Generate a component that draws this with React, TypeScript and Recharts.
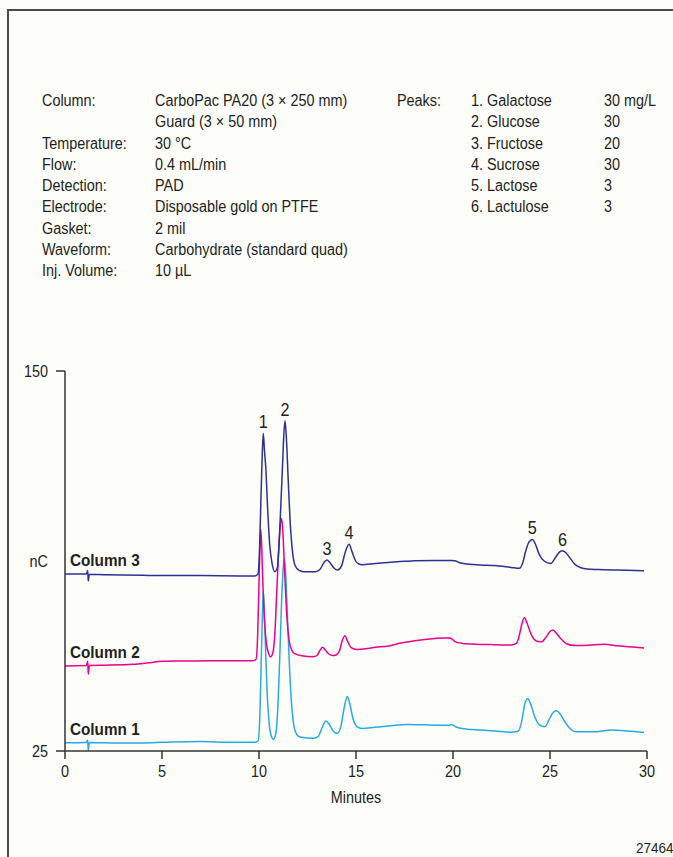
import React from "react";
import { LineChart, Line, XAxis, YAxis, LabelList, Label } from "recharts";

const FONT = "'Liberation Sans', Arial, sans-serif";
const INK = "#231f20";
const SQUEEZE = 0.9; // the original uses a condensed face

const xTicks = [0, 5, 10, 15, 20, 25, 30];
const yTicks = [25, 150];

const seriesNames = ["Column 1", "Column 2", "Column 3"];
const seriesColors = ["#29abe2", "#ec008c", "#2e3192"];

// Column 3 (top trace)
const col3Times = [
  0, 1.1, 1.17, 1.2, 1.25, 2, 4, 5, 7, 9, 9.8,
  9.95, 10.03, 10.1, 10.17, 10.22, 10.28, 10.36, 10.45, 10.55, 10.68, 10.82,
  10.95, 11.05, 11.14, 11.22, 11.28, 11.34, 11.42, 11.5, 11.6, 11.72, 11.86, 12.05, 12.3,
  12.9, 13.15, 13.35, 13.5, 13.65, 13.85, 14.05,
  14.25, 14.45, 14.64, 14.8, 14.98, 15.15, 15.3,
  16.0, 16.65, 17.5, 18.04, 19.07, 19.9, 20.1, 20.3, 20.6, 21.4, 22.16, 23.0, 23.42,
  23.6, 23.75, 23.92, 24.09, 24.25, 24.45, 24.7, 25.03,
  25.3, 25.5, 25.65, 25.82, 26.05, 26.3, 26.6, 26.9, 27.5, 28.5, 29.85,
];
const col3Values = [
  83.2, 83.2, 84.3, 80.9, 83.1, 83.0, 82.8, 82.7, 82.7, 82.6, 82.6,
  83.2, 92, 108, 123, 129.5, 124, 117, 104, 93, 86.5, 84.0,
  85.5, 95, 108, 120, 129, 133.6, 127, 115, 101, 91, 86, 84.5, 84.0,
  84.0, 84.8, 87.0, 87.8, 87.0, 85.3, 84.5,
  85.8, 90.5, 93.0, 90.5, 87.5, 86.5, 86.3,
  86.7, 87.0, 87.4, 87.6, 87.7, 87.7, 87.6, 87.0, 86.6, 86.2, 86.0, 85.4, 85.1,
  87.0, 90.8, 93.8, 94.6, 93.0, 89.6, 87.5, 86.7,
  88.8, 90.5, 90.9, 90.2, 88.3, 86.3, 85.3, 84.9, 84.7, 84.5, 84.3,
];

// Column 2 (middle trace)
const col2Times = [
  0, 1.1, 1.17, 1.2, 1.25, 2, 3.5, 4.3, 5, 6, 7.5, 8.5, 9.7,
  9.85, 9.93, 10.0, 10.05, 10.09, 10.14, 10.2, 10.28, 10.38, 10.5, 10.6,
  10.72, 10.82, 10.92, 11.02, 11.1, 11.17, 11.24, 11.32, 11.42, 11.55, 11.7, 11.85, 12.2, 12.8,
  13.0, 13.15, 13.28, 13.42, 13.6, 13.8, 13.97,
  14.15, 14.3, 14.43, 14.56, 14.75, 15.03, 15.5, 16.0, 16.65, 17.3, 18.04, 19.07, 19.6, 19.85,
  20.1, 20.5, 20.96, 22.0, 23.0, 23.25,
  23.4, 23.55, 23.68, 23.82, 24.0, 24.2, 24.4, 24.57,
  24.8, 25.0, 25.14, 25.3, 25.55, 25.85, 26.3, 27.0, 27.8, 28.5, 29.85,
];
const col2Values = [
  53.0, 53.1, 54.5, 50.3, 53.1, 53.2, 53.5, 54.0, 54.5, 54.6, 54.7, 54.7, 54.7,
  55.2, 63, 80, 92, 98, 92, 80, 68, 60.5, 57, 56.0,
  57.5, 64, 78, 92, 99.5, 101.5, 96, 84, 71, 61.5, 58, 57.0, 56.3, 56.0,
  56.5, 58.2, 59.1, 58.2, 56.9, 56.4, 56.6,
  58.0, 61.5, 62.9, 61.2, 59.0, 58.4, 58.6, 59.1, 59.5, 60.5, 61.3, 62.0, 62.2, 62.2,
  61.0, 60.4, 60.2, 60.0, 59.9, 60.3,
  62.5, 66.8, 68.8, 67.0, 63.8, 61.6, 61.0, 60.9,
  62.5, 64.3, 64.8, 64.0, 62.0, 60.3, 59.7, 59.8, 60.1, 59.6, 58.9,
];

// Column 1 (bottom trace)
const col1Times = [
  0, 1.1, 1.17, 1.2, 1.25, 2, 3.5, 4.5, 5.5, 7, 8.5, 9.8,
  9.95, 10.05, 10.12, 10.18, 10.22, 10.27, 10.34, 10.42, 10.52, 10.62, 10.74,
  10.86, 10.96, 11.06, 11.17, 11.25, 11.31, 11.37, 11.45, 11.55, 11.65, 11.76, 11.9, 12.1, 12.8,
  13.05, 13.25, 13.45, 13.62, 13.82, 14.04,
  14.22, 14.4, 14.55, 14.68, 14.85, 15.05, 15.3, 16, 16.65, 17.7, 18.5, 19.76, 19.95, 20.15,
  20.45, 21.4, 22.16, 23.0, 23.35,
  23.55, 23.7, 23.85, 24.0, 24.2, 24.45, 24.74,
  24.95, 25.15, 25.34, 25.52, 25.8, 26.1, 26.37, 27.2, 28.2, 29.0, 29.85,
];
const col1Values = [
  27.7, 27.8, 28.6, 25.2, 27.8, 27.7, 27.6, 27.7, 28.0, 28.1, 27.9, 27.9,
  28.3, 38, 56, 71, 77.6, 72, 58, 44, 34.5, 30.2, 28.9,
  30.5, 38, 54, 75, 85.5, 88.1, 84, 72, 56, 43, 35, 31, 29.6, 29.2,
  29.8, 32.6, 34.9, 33.8, 31.6, 30.8,
  33, 39.5, 42.9, 40.5, 35.5, 33.0, 32.4, 32.8, 33.2, 33.7, 33.6, 33.5, 33.6, 32.9,
  32.4, 31.9, 31.6, 31.2, 31.5,
  35, 40.5, 42.3, 40.5, 36.5, 33.6, 33.0,
  35.3, 37.6, 38.2, 37.2, 34.3, 32.0, 31.3, 31.3, 31.9, 31.6, 31.1,
];

// peak numbering on the Column 3 trace
const peakLabels = ["1", "2", "3", "4", "5", "6"];
const peakTimes = [10.22, 11.34, 13.5, 14.64, 24.09, 25.65];

const conditionNames = [
  "Column:", "", "Temperature:", "Flow:", "Detection:", "Electrode:", "Gasket:", "Waveform:", "Inj. Volume:",
];
const conditionValues = [
  "CarboPac PA20 (3 × 250 mm)", "Guard (3 × 50 mm)", "30 °C", "0.4 mL/min", "PAD",
  "Disposable gold on PTFE", "2 mil", "Carbohydrate (standard quad)", "10 µL",
];
const analyteNames = ["1. Galactose", "2. Glucose", "3. Fructose", "4. Sucrose", "5. Lactose", "6. Lactulose"];
const analyteConc = ["30 mg/L", "30", "20", "30", "3", "3"];

const toData = (times: number[], values: number[]) => times.map((t, i) => ({ t, v: values[i] }));

const series = [
  toData(col1Times, col1Values),
  toData(col2Times, col2Values),
  toData(col3Times, col3Values),
];
const peakIdx = peakTimes.map((t) => col3Times.indexOf(t));

const textStyle: React.CSSProperties = {
  position: "absolute",
  fontFamily: FONT,
  fontSize: 16,
  lineHeight: "21.3px",
  color: INK,
  whiteSpace: "pre",
  transform: `scaleX(${SQUEEZE})`,
  transformOrigin: "left top",
};

function Column({ left, top, lines }: { left: number; top: number; lines: string[] }) {
  return (
    <div style={{ ...textStyle, left, top }}>
      {lines.map((s, i) => (
        <div key={i}>{s || "\u00a0"}</div>
      ))}
    </div>
  );
}

// svg text squeezed horizontally around its anchor point
function Squeezed({ x, y, children, ...rest }: any) {
  return (
    <g transform={`translate(${x},${y}) scale(${SQUEEZE},1)`}>
      <text x={0} y={0} fill={INK} fontFamily={FONT} {...rest}>
        {children}
      </text>
    </g>
  );
}

const XTick = ({ x, y, payload }: any) => (
  <Squeezed x={x} y={y + 13} fontSize={16} textAnchor="middle">
    {payload.value}
  </Squeezed>
);

const YTick = ({ x, y, payload }: any) => (
  <Squeezed x={x} y={y + 6} fontSize={16} textAnchor="end">
    {payload.value}
  </Squeezed>
);

export default function App() {
  return (
    <div style={{ position: "absolute", left: 0, top: 0, width: 673, height: 857, background: "#fdfdf9", overflow: "hidden" }}>
      <div style={{ position: "absolute", left: 7, top: 9, width: 666, height: 1.5, background: "#4a4a4a" }} />
      <div style={{ position: "absolute", left: 7, top: 9, width: 1.5, height: 848, background: "#4a4a4a" }} />

      <Column left={42} top={90} lines={conditionNames} />
      <Column left={155} top={90} lines={conditionValues} />
      <Column left={397} top={90} lines={["Peaks:"]} />
      <Column left={471} top={90} lines={analyteNames} />
      <Column left={604} top={90} lines={analyteConc} />

      <div style={{ position: "absolute", left: 0, top: 0 }}>
        <LineChart width={673} height={857} margin={{ top: 371, right: 26, bottom: 48, left: 25 }}>
          <XAxis
            dataKey="t"
            type="number"
            domain={[0, 30]}
            ticks={xTicks}
            tickSize={8}
            tickMargin={5}
            height={58}
            stroke="#333"
            strokeWidth={1.5}
            tick={<XTick />}
          >
            <Label
              position="insideBottom"
              content={({ viewBox }: any) => (
                <Squeezed x={viewBox.x + viewBox.width / 2} y={viewBox.y + 52} fontSize={16} textAnchor="middle">
                  Minutes
                </Squeezed>
              )}
            />
          </XAxis>
          <YAxis
            type="number"
            domain={[25, 150]}
            ticks={yTicks}
            width={40}
            tickSize={9}
            tickMargin={8}
            stroke="#333"
            strokeWidth={1.5}
            tick={<YTick />}
          >
            <Label
              position="insideRight"
              content={({ viewBox }: any) => (
                <Squeezed x={viewBox.x + viewBox.width - 17} y={viewBox.y + viewBox.height / 2 + 6} fontSize={16} textAnchor="end">
                  nC
                </Squeezed>
              )}
            />
          </YAxis>
          {series.map((data, s) => (
            <Line
              key={seriesNames[s]}
              data={data}
              dataKey="v"
              type="monotone"
              stroke={seriesColors[s]}
              strokeWidth={1.5}
              dot={false}
              activeDot={false}
              isAnimationActive={false}
            >
              <LabelList
                dataKey="v"
                content={(p: any) => {
                  if (p.index === 0) {
                    return (
                      <Squeezed x={p.x + 5} y={p.y - 8} fontSize={17} fontWeight="bold">
                        {seriesNames[s]}
                      </Squeezed>
                    );
                  }
                  if (s === 2 && peakIdx.includes(p.index)) {
                    return (
                      <Squeezed x={p.x} y={p.y - 5} fontSize={18} textAnchor="middle">
                        {peakLabels[peakIdx.indexOf(p.index)]}
                      </Squeezed>
                    );
                  }
                  return null;
                }}
              />
            </Line>
          ))}
        </LineChart>
      </div>

      <div style={{ ...textStyle, left: 636, top: 837, fontSize: 15 }}>27464</div>
    </div>
  );
}
